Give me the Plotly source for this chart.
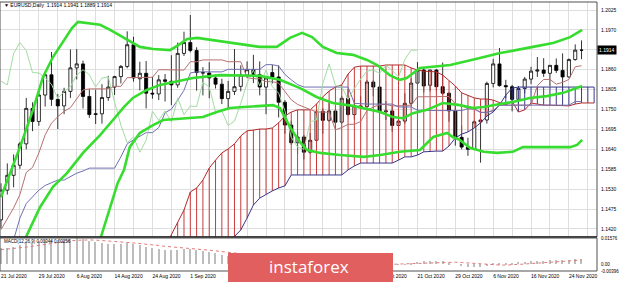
import plotly.graph_objects as go

# ---------------- data ----------------
# date labels every 6 bars; '' where the label is hidden behind the logo
date_labels = ['21 Jul 2020', '29 Jul 2020', '6 Aug 2020', '14 Aug 2020', '24 Aug 2020',
               '1 Sep 2020', '', '', '', '',
               '13 Oct 2020', '21 Oct 2020', '29 Oct 2020', '6 Nov 2020', '16 Nov 2020',
               '24 Nov 2020']

opens = [1.1445, 1.1527, 1.1568, 1.1596, 1.1655, 1.1753, 1.1717, 1.1790, 1.1846, 1.1778,
         1.1760, 1.1800, 1.1865, 1.1876, 1.1786, 1.1736, 1.1738, 1.1783, 1.1812, 1.1841,
         1.1869, 1.1929, 1.1835, 1.1850, 1.1795, 1.1793, 1.1832, 1.1828, 1.1818, 1.1905,
         1.1935, 1.1913, 1.1852, 1.1851, 1.1837, 1.1820, 1.1780, 1.1800, 1.1814, 1.1845,
         1.1860, 1.1846, 1.1812, 1.1852, 1.1840, 1.1770, 1.1707, 1.1658, 1.1674, 1.1632,
         1.1665, 1.1745, 1.1720, 1.1746, 1.1715, 1.1781, 1.1736, 1.1760, 1.1758, 1.1826,
         1.1812, 1.1744, 1.1746, 1.1706, 1.1718, 1.1767, 1.1823, 1.1859, 1.1817, 1.1859,
         1.1813, 1.1795, 1.1746, 1.1673, 1.1646, 1.1640, 1.1716, 1.1721, 1.1822, 1.1876,
         1.1816, 1.1813, 1.1778, 1.1808, 1.1834, 1.1856, 1.1859, 1.1850, 1.1872, 1.1858,
         1.1840, 1.1888, 1.1914]
highs = [1.1546, 1.1601, 1.1626, 1.1660, 1.1782, 1.1770, 1.1805, 1.1850, 1.1909, 1.1793,
         1.1810, 1.1916, 1.1917, 1.1885, 1.1806, 1.1805, 1.1820, 1.1843, 1.1843, 1.1873,
         1.1966, 1.1951, 1.1882, 1.1884, 1.1840, 1.1845, 1.1848, 1.1900, 1.1935, 1.1965,
         1.2011, 1.1922, 1.1867, 1.1881, 1.1847, 1.1835, 1.1829, 1.1917, 1.1872, 1.1883,
         1.1901, 1.1883, 1.1838, 1.1873, 1.1872, 1.1776, 1.1719, 1.1688, 1.1680, 1.1685,
         1.1745, 1.1754, 1.1770, 1.1749, 1.1787, 1.1806, 1.1780, 1.1788, 1.1831, 1.1831,
         1.1815, 1.1773, 1.1761, 1.1740, 1.1795, 1.1836, 1.1881, 1.1867, 1.1860, 1.1861,
         1.1880, 1.1797, 1.1760, 1.1706, 1.1672, 1.1720, 1.1770, 1.1827, 1.1890, 1.1920,
         1.1832, 1.1818, 1.1815, 1.1840, 1.1868, 1.1895, 1.1892, 1.1873, 1.1891, 1.1905,
         1.1891, 1.1930, 1.1941]
lows = [1.1422, 1.1515, 1.1535, 1.1586, 1.1640, 1.1690, 1.1705, 1.1758, 1.1760, 1.1696,
        1.1737, 1.1782, 1.1833, 1.1753, 1.1727, 1.1710, 1.1711, 1.1774, 1.1790, 1.1822,
        1.1864, 1.1827, 1.1803, 1.1753, 1.1780, 1.1776, 1.1772, 1.1762, 1.1810, 1.1898,
        1.1908, 1.1802, 1.1789, 1.1781, 1.1808, 1.1765, 1.1753, 1.1790, 1.1800, 1.1837,
        1.1823, 1.1789, 1.1737, 1.1822, 1.1728, 1.1683, 1.1652, 1.1627, 1.1612, 1.1628,
        1.1663, 1.1683, 1.1716, 1.1696, 1.1711, 1.1733, 1.1722, 1.1754, 1.1755, 1.1787,
        1.1738, 1.1721, 1.1688, 1.1690, 1.1711, 1.1760, 1.1823, 1.1797, 1.1800, 1.1800,
        1.1790, 1.1716, 1.1650, 1.1640, 1.1622, 1.1638, 1.1603, 1.1711, 1.1811, 1.1813,
        1.1782, 1.1745, 1.1760, 1.1795, 1.1820, 1.1840, 1.1840, 1.1814, 1.1851, 1.1800,
        1.1838, 1.1885, 1.1889]
closes = [1.1527, 1.1568, 1.1596, 1.1655, 1.1753, 1.1717, 1.1790, 1.1846, 1.1778, 1.1760,
          1.1800, 1.1865, 1.1876, 1.1786, 1.1736, 1.1738, 1.1783, 1.1812, 1.1841, 1.1869,
          1.1929, 1.1837, 1.1850, 1.1795, 1.1793, 1.1832, 1.1828, 1.1818, 1.1905, 1.1935,
          1.1913, 1.1852, 1.1851, 1.1837, 1.1820, 1.1780, 1.1800, 1.1813, 1.1845, 1.1860,
          1.1846, 1.1812, 1.1837, 1.1840, 1.1770, 1.1707, 1.1658, 1.1674, 1.1632, 1.1665,
          1.1745, 1.1720, 1.1746, 1.1715, 1.1781, 1.1736, 1.1760, 1.1758, 1.1826, 1.1812,
          1.1744, 1.1746, 1.1706, 1.1718, 1.1767, 1.1823, 1.1859, 1.1815, 1.1859, 1.1813,
          1.1795, 1.1746, 1.1673, 1.1646, 1.1640, 1.1716, 1.1721, 1.1822, 1.1876, 1.1816,
          1.1813, 1.1778, 1.1808, 1.1834, 1.1856, 1.1859, 1.1850, 1.1872, 1.1858, 1.1840,
          1.1888, 1.1914, 1.1914]

# Bollinger bands (read as points along each line; x = bar number)
bb_upper_bar = [0, 1.43, 3.01, 5.07, 6.66, 8.24, 9.83, 11.25, 12.2, 13.6, 15.7, 17.3, 19.5,
                22.0, 24.1, 26.8, 28.1, 29.5, 31.1, 33.6, 36.8, 41.0, 43.7, 45.8, 47.7, 49.3,
                51.0, 53.2, 55.8, 58.0, 59.6, 61.6, 63.2, 64.3, 66.4, 71.2, 75.4, 79.1, 84.3,
                87.5, 90.2, 92.1]
bb_upper = [1.1508, 1.1574, 1.1646, 1.1749, 1.1840, 1.1895, 1.1937, 1.1975, 1.1992, 1.1989,
            1.1984, 1.1970, 1.1948, 1.1923, 1.1917, 1.1914, 1.1928, 1.1945, 1.1948, 1.1942,
            1.1934, 1.1923, 1.1923, 1.1948, 1.1962, 1.1950, 1.1923, 1.1906, 1.1901, 1.1887,
            1.1873, 1.1845, 1.1832, 1.1837, 1.1865, 1.1873, 1.1890, 1.1906, 1.1923, 1.1934,
            1.1950, 1.1970]
bb_mid_bar = [3.0, 6.18, 8.24, 10.46, 13.0, 15.7, 17.75, 19.5, 20.9, 23.1, 25.2, 27.3, 30.4,
              34.7, 38.5, 41.0, 44.2, 47.4, 50.1, 52.6, 55.8, 60.1, 62.1, 63.7, 65.3, 67.5,
              70.0, 72.7, 74.8, 76.5, 79.1, 81.1, 83.8, 86.5, 89.1, 92.1]
bb_mid = [1.1362, 1.1480, 1.1536, 1.1574, 1.1630, 1.1679, 1.1721, 1.1757, 1.1782, 1.1804,
          1.1818, 1.1826, 1.1837, 1.1845, 1.1845, 1.1843, 1.1832, 1.1809, 1.1784, 1.1768,
          1.1760, 1.1743, 1.1729, 1.1726, 1.1740, 1.1749, 1.1768, 1.1762, 1.1754, 1.1757,
          1.1765, 1.1771, 1.1782, 1.1787, 1.1796, 1.1815]
bb_lower_bar = [15.2, 17.3, 18.5, 19.5, 20.4, 22.0, 24.1, 25.7, 29.5, 32.0, 34.2, 36.3, 38.5,
                40.6, 43.1, 44.2, 45.8, 47.1, 48.5, 50.6, 53.7, 57.5, 60.1, 63.2, 66.4, 68.5,
                70.7, 71.6, 72.7, 74.3, 76.5, 78.6, 81.1, 82.7, 86.5, 90.2, 91.3, 92.1]
bb_lower = [1.1362, 1.1480, 1.1547, 1.1583, 1.1646, 1.1685, 1.1707, 1.1721, 1.1726, 1.1729,
            1.1743, 1.1754, 1.1757, 1.1760, 1.1762, 1.1754, 1.1702, 1.1666, 1.1638, 1.1630,
            1.1624, 1.1619, 1.1624, 1.1633, 1.1638, 1.1674, 1.1685, 1.1674, 1.1666, 1.1644,
            1.1633, 1.1630, 1.1633, 1.1646, 1.1646, 1.1646, 1.1652, 1.1666]

# Ichimoku: Tenkan-sen and Kijun-sen per bar
tenkan = [1.1418, 1.1450, 1.1478, 1.1515, 1.1576, 1.1590, 1.1630, 1.1680, 1.1712, 1.1730,
          1.1745, 1.1755, 1.1779, 1.1804, 1.1807, 1.1807, 1.1807, 1.1807, 1.1814, 1.1814,
          1.1838, 1.1838, 1.1838, 1.1838, 1.1839, 1.1860, 1.1860, 1.1860, 1.1860, 1.1859,
          1.1882, 1.1882, 1.1887, 1.1887, 1.1887, 1.1887, 1.1882, 1.1882, 1.1882, 1.1838,
          1.1835, 1.1835, 1.1827, 1.1827, 1.1823, 1.1800, 1.1777, 1.1764, 1.1757, 1.1748,
          1.1743, 1.1743, 1.1742, 1.1694, 1.1700, 1.1709, 1.1709, 1.1717, 1.1747, 1.1757,
          1.1763, 1.1764, 1.1760, 1.1760, 1.1760, 1.1762, 1.1785, 1.1785, 1.1785, 1.1785,
          1.1785, 1.1786, 1.1766, 1.1761, 1.1752, 1.1751, 1.1742, 1.1742, 1.1747, 1.1762,
          1.1762, 1.1762, 1.1762, 1.1762, 1.1762, 1.1816, 1.1833, 1.1833, 1.1820, 1.1825,
          1.1833, 1.1868, 1.1871]
kijun = [None, None, 1.1390, 1.1450, 1.1490, 1.1510, 1.1527, 1.1540, 1.1548, 1.1555,
         1.1555, 1.1565, 1.1574, 1.1580, 1.1588, 1.1588, 1.1588, 1.1588, 1.1588, 1.1619,
         1.1655, 1.1666, 1.1675, 1.1686, 1.1686, 1.1700, 1.1741, 1.1751, 1.1776, 1.1803,
         1.1851, 1.1854, 1.1854, 1.1854, 1.1854, 1.1854, 1.1861, 1.1861, 1.1861, 1.1861,
         1.1861, 1.1861, 1.1874, 1.1874, 1.1870, 1.1847, 1.1832, 1.1819, 1.1812, 1.1812,
         1.1812, 1.1812, 1.1812, 1.1812, 1.1812, 1.1812, 1.1767, 1.1765, 1.1765, 1.1765,
         1.1765, 1.1765, 1.1765, 1.1757, 1.1757, 1.1757, 1.1748, 1.1747, 1.1747, 1.1747,
         1.1747, 1.1747, 1.1747, 1.1747, 1.1752, 1.1752, 1.1742, 1.1742, 1.1747, 1.1762,
         1.1762, 1.1762, 1.1762, 1.1762, 1.1762, 1.1762, 1.1762, 1.1762, 1.1762, 1.1762,
         1.1762, 1.1772, 1.1772]
chikou_shift = 26

# Ichimoku cloud spans, bars 26 .. 94
cloud_first_bar = 26
span_a = [1.1370, 1.1403, 1.1439, 1.1472, 1.1522, 1.1533, 1.1555, 1.1588, 1.1610, 1.1630,
          1.1641, 1.1655, 1.1677, 1.1691, 1.1693, 1.1696, 1.1696, 1.1699, 1.1713, 1.1732,
          1.1743, 1.1749, 1.1749, 1.1749, 1.1765, 1.1785, 1.1801, 1.1812, 1.1818, 1.1848,
          1.1867, 1.1870, 1.1870, 1.1870, 1.1870, 1.1873, 1.1873, 1.1873, 1.1873, 1.1865,
          1.1859, 1.1856, 1.1856, 1.1854, 1.1845, 1.1829, 1.1815, 1.1796, 1.1790, 1.1782,
          1.1779, 1.1779, 1.1776, 1.1770, 1.1762, 1.1773, 1.1743, 1.1749, 1.1768, 1.1765,
          1.1762, 1.1762, 1.1762, 1.1760, 1.1760, 1.1765, 1.1768, 1.1768, 1.1768]
span_b = [1.1230, 1.1245, 1.1260, 1.1275, 1.1290, 1.1305, 1.1320, 1.1334, 1.1348, 1.1362,
          1.1381, 1.1400, 1.1417, 1.1450, 1.1486, 1.1505, 1.1516, 1.1525, 1.1533, 1.1539,
          1.1569, 1.1569, 1.1569, 1.1569, 1.1569, 1.1569, 1.1569, 1.1569, 1.1569, 1.1583,
          1.1594, 1.1602, 1.1602, 1.1602, 1.1602, 1.1602, 1.1602, 1.1610, 1.1619, 1.1619,
          1.1624, 1.1633, 1.1635, 1.1635, 1.1635, 1.1649, 1.1671, 1.1682, 1.1688, 1.1699,
          1.1713, 1.1732, 1.1743, 1.1762, 1.1790, 1.1809, 1.1812, 1.1812, 1.1812, 1.1812,
          1.1812, 1.1812, 1.1812, 1.1812, 1.1812, 1.1812, 1.1812, 1.1812, 1.1812]

# MACD(12,26,9): main (histogram) and signal (dotted)
macd_main = [0.0095, 0.0100, 0.0106, 0.0113, 0.0125, 0.0130, 0.0138, 0.0147, 0.0146,
             0.0143, 0.0144, 0.0150, 0.0156, 0.0150, 0.0140, 0.0132, 0.0127, 0.0124, 0.0122, 0.0122, 0.0126,
             0.0119, 0.0113, 0.0105, 0.0097, 0.0093, 0.0088, 0.0083, 0.0085, 0.0090, 0.0090,
             0.0084, 0.0078, 0.0072, 0.0066, 0.0058, 0.0052, 0.0047, 0.0045, 0.0044, 0.0041, 0.0036, 0.0034, 0.0032,
             0.0024, 0.0008, -0.0008, -0.0020, -0.0033, -0.00396, -0.0037, -0.0033,
             -0.0028, -0.0025, -0.0018, -0.0014, -0.0010, -0.0006, 0.0002, 0.0008, 0.0007, 0.0006, 0.0002, -0.0001, 0.0002, 0.0009, 0.0016,
             0.0018, 0.0022, 0.0021, 0.0018, 0.0011, 0.0000, -0.0010, -0.0017, -0.0017, -0.0016,
             -0.0008, 0.0004, 0.0008, 0.0010, 0.0010, 0.0012, 0.0015, 0.0019, 0.0021, 0.0022, 0.0026, 0.0027, 0.0026, 0.0029, 0.0033, 0.00344]
macd_signal = [0.0088, 0.0091, 0.0094, 0.0098, 0.0103, 0.0108, 0.0114, 0.0121, 0.0127,
               0.0132, 0.0137, 0.0141, 0.0144, 0.0146, 0.0146, 0.0145, 0.0143, 0.0140, 0.0137, 0.0134, 0.0131,
               0.0128, 0.0125, 0.0121, 0.0117, 0.0113, 0.0108, 0.0104, 0.0100, 0.0097, 0.0094,
               0.0091, 0.0088, 0.0085, 0.0081, 0.0077, 0.0073, 0.0068, 0.0063, 0.0058, 0.0054, 0.0050, 0.0046, 0.0042,
               0.0038, 0.0032, 0.0025, 0.0017, 0.0008, 0.0000, -0.0007, -0.0013,
               -0.0018, -0.0021, -0.0022, -0.0022, -0.0020, -0.0017, -0.0013, -0.0009, -0.0005, -0.0002, 0.0000, 0.0002, 0.0003, 0.0004, 0.0006,
               0.0007, 0.0009, 0.0011, 0.0013, 0.0014, 0.0013, 0.0011, 0.0008, 0.0005, 0.0002,
               -0.0001, -0.0003, -0.0004, -0.0004, -0.0003, -0.0001, 0.0002, 0.0005, 0.0008, 0.0011, 0.0014, 0.0017, 0.0019, 0.0021, 0.0024, 0.00256]

price_grid = [1.1420, 1.1475, 1.1530, 1.1585, 1.1640, 1.1695, 1.1750, 1.1805, 1.1860, 1.1915, 1.1970, 1.2025]
price_labels = ['1.1420', '1.1475', '1.1530', '1.1585', '1.1640', '1.1695', '1.1750', '1.1805', '1.1860', '', '1.1970', '1.2025']
last_price = 1.1914
macd_max, macd_min = 0.01576, -0.00396
macd_ticks = [macd_max, 0.0, macd_min]
macd_tick_labels = ['0.01576', '0.00', '-0.00396']
title_text = '\u25BC EURUSD,Daily  1.1914 1.1941 1.1889 1.1914'
macd_text = 'MACD(12,26,9) 0.00344 0.00256'

# ---------------- figure ----------------
n = len(closes)
bars = list(range(n))
FONT = 'Liberation Sans'

fig = go.Figure()

fig.add_trace(go.Candlestick(
    x=bars, open=opens, high=highs, low=lows, close=closes,
    increasing=dict(line=dict(color='#000000', width=0.8), fillcolor='#ffffff'),
    decreasing=dict(line=dict(color='#000000', width=0.8), fillcolor='#000000'),
    whiskerwidth=0, xaxis='x', yaxis='y', hoverinfo='skip'))

# cloud hatching (colour of whichever span is on top)
cloud_bars = [cloud_first_bar + k for k in range(len(span_a))]
ha_x, ha_y, hb_x, hb_y = [], [], [], []
for b, a, s in zip(cloud_bars, span_a, span_b):
    if a >= s:
        ha_x += [b, b, None]; ha_y += [a, s, None]
    else:
        hb_x += [b, b, None]; hb_y += [a, s, None]
fig.add_trace(go.Scatter(x=ha_x, y=ha_y, mode='lines', line=dict(color='#c83c3c', width=1),
                         connectgaps=False, xaxis='x', yaxis='y', hoverinfo='skip'))
fig.add_trace(go.Scatter(x=hb_x, y=hb_y, mode='lines', line=dict(color='#3c3c8c', width=1),
                         connectgaps=False, xaxis='x', yaxis='y', hoverinfo='skip'))
fig.add_trace(go.Scatter(x=cloud_bars, y=span_a, mode='lines', line=dict(color='#b22a2a', width=1),
                         xaxis='x', yaxis='y', hoverinfo='skip'))
fig.add_trace(go.Scatter(x=cloud_bars, y=span_b, mode='lines', line=dict(color='#35358a', width=1),
                         xaxis='x', yaxis='y', hoverinfo='skip'))

# tenkan / kijun / chikou
fig.add_trace(go.Scatter(x=bars, y=tenkan, mode='lines', line=dict(color='#b87070', width=1),
                         xaxis='x', yaxis='y', hoverinfo='skip'))
fig.add_trace(go.Scatter(x=bars, y=kijun, mode='lines', line=dict(color='#7070b4', width=1),
                         xaxis='x', yaxis='y', hoverinfo='skip'))
fig.add_trace(go.Scatter(x=[b - chikou_shift for b in bars[chikou_shift:]], y=closes[chikou_shift:],
                         mode='lines', line=dict(color='#a2dca2', width=1),
                         xaxis='x', yaxis='y', hoverinfo='skip'))

# Bollinger bands
for bx, by in ((bb_upper_bar, bb_upper), (bb_mid_bar, bb_mid), (bb_lower_bar, bb_lower)):
    fig.add_trace(go.Scatter(x=bx, y=by, mode='lines', line=dict(color='#36dc2e', width=2.6),
                             xaxis='x', yaxis='y', hoverinfo='skip'))

# MACD
fig.add_trace(go.Bar(x=bars, y=macd_main, width=0.22, marker=dict(color='#bdbdbd', line=dict(width=0)),
                     xaxis='x2', yaxis='y2', hoverinfo='skip'))
fig.add_trace(go.Scatter(x=bars, y=macd_signal, mode='lines', line=dict(color='#e07878', width=1, dash='dot'),
                         xaxis='x2', yaxis='y2', hoverinfo='skip'))

# ---------------- layout ----------------
W, H = 620, 282
ml, mr, mt, mb = 0, 23, 2, 11
pw, ph = W - ml - mr, H - mt - mb


def px_x(x):
    return (x - ml) / pw


def px_y(y):
    return (H - mb - y) / ph


main_bottom = px_y(237)
macd_top = px_y(238)
bar_px = 6.31
x_lo = (0 - 1) / bar_px
x_hi = (pw - 1) / bar_px

grid_vals = list(range(0, 95, 3))
grid_text = [date_labels[v // 6] if v % 6 == 0 and v // 6 < len(date_labels) else '' for v in grid_vals]

fig.update_layout(
    width=W, height=H, margin=dict(l=ml, r=mr, t=mt, b=mb),
    paper_bgcolor='white', plot_bgcolor='white', showlegend=False,
    font=dict(family=FONT, size=5, color='#000000'),
    xaxis=dict(domain=[0, 1], range=[x_lo, x_hi], anchor='y', tickvals=grid_vals, showticklabels=False,
               showgrid=True, gridcolor='#dedede', gridwidth=1, zeroline=False, ticks='',
               rangeslider=dict(visible=False), fixedrange=True),
    yaxis=dict(domain=[main_bottom, 1], range=[1.13976, 1.20471], side='right', anchor='x',
               tickvals=price_grid, ticktext=price_labels, showgrid=True, gridcolor='#dedede',
               gridwidth=1, zeroline=False, ticks='', ticklabelstandoff=3,
               tickfont=dict(family=FONT, size=5, color='#000000'), fixedrange=True),
    xaxis2=dict(domain=[0, 1], range=[x_lo, x_hi], anchor='y2', matches='x', tickvals=grid_vals,
                ticktext=grid_text, ticklabelposition='outside right', showgrid=False, zeroline=False,
                ticks='', tickfont=dict(family=FONT, size=5, color='#000000'), ticklabelstandoff=1,
                fixedrange=True),
    yaxis2=dict(domain=[0, macd_top], range=[macd_min, macd_max], side='right', anchor='x2',
                tickvals=macd_ticks, ticktext=macd_tick_labels, showgrid=False, zeroline=False,
                ticks='', ticklabelstandoff=3, tickfont=dict(family=FONT, size=4.5, color='#000000'),
                fixedrange=True),
    bargap=0,
)

shapes = [
    dict(type='rect', xref='paper', yref='paper', x0=0, x1=1, y0=main_bottom, y1=1,
         line=dict(color='#505050', width=1), layer='above'),
    dict(type='line', xref='paper', yref='paper', x0=0, x1=1, y0=main_bottom, y1=main_bottom,
         line=dict(color='#202020', width=1.6), layer='above'),
    dict(type='rect', xref='paper', yref='paper', x0=0, x1=1, y0=0, y1=macd_top,
         line=dict(color='#505050', width=1), layer='above'),
    dict(type='rect', xref='paper', yref='paper', x0=px_x(228), x1=px_x(393), y0=px_y(283), y1=px_y(253),
         fillcolor='#e25f5f', line=dict(width=0), layer='above'),
]
fig.update_layout(shapes=shapes)

annotations = [
    dict(text=title_text, xref='paper', yref='paper', x=px_x(2), y=px_y(5), xanchor='left',
         yanchor='middle', showarrow=False, font=dict(family=FONT, size=5, color='#000000')),
    dict(text=macd_text, xref='paper', yref='paper', x=px_x(2), y=px_y(241.5), xanchor='left',
         yanchor='middle', showarrow=False, font=dict(family=FONT, size=4.5, color='#000000')),
    dict(text=f'{last_price:.4f}', xref='paper', yref='y', x=1.0, y=last_price, xanchor='left',
         yanchor='middle', showarrow=False, bgcolor='#000000', borderpad=1,
         font=dict(family=FONT, size=5, color='#ffffff')),
    dict(text='instaforex', xref='paper', yref='paper', x=px_x(309), y=px_y(266), xanchor='center',
         yanchor='middle', showarrow=False, font=dict(family='Open Sans', size=17, color='#ffffff')),
]
fig.update_layout(annotations=annotations)

fig.write_html('out.html')
